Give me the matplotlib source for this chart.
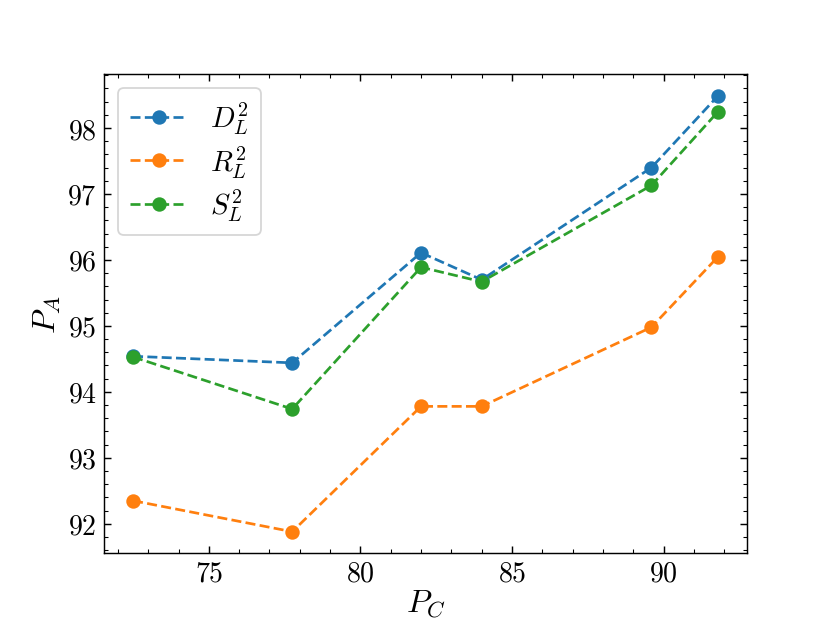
import matplotlib
matplotlib.use("Agg")
import matplotlib.pyplot as plt
from matplotlib.ticker import AutoMinorLocator

# readings of P_A against P_C
p_c = [72.5, 77.75, 82.0, 84.0, 89.6, 91.8]
d_l2 = [94.54, 94.44, 96.11, 95.70, 97.40, 98.49]
r_l2 = [92.35, 91.88, 93.78, 93.78, 94.98, 96.05]
s_l2 = [94.53, 93.74, 95.89, 95.67, 97.13, 98.25]

plt.rcParams["font.family"] = "serif"
plt.rcParams["font.serif"] = ["cmr10"]
plt.rcParams["mathtext.fontset"] = "cm"
plt.rcParams["axes.formatter.use_mathtext"] = True

fig, ax = plt.subplots(figsize=(6.4, 4.8), dpi=129.75)

ax.plot(p_c, d_l2, "o--", ms=7, label=r"$D_L^2$")
ax.plot(p_c, r_l2, "o--", ms=7, label=r"$R_L^2$")
ax.plot(p_c, s_l2, "o--", ms=7, label=r"$S_L^2$")

ax.set_xlabel(r"$P_C$", fontsize=18, labelpad=0)
ax.set_ylabel(r"$P_A$", fontsize=18, labelpad=2)

ax.xaxis.set_minor_locator(AutoMinorLocator(5))
ax.yaxis.set_minor_locator(AutoMinorLocator(5))
ax.tick_params(which="both", direction="in", top=True, right=True, labelsize=15.5)
ax.tick_params(which="major", length=4, pad=4)
ax.tick_params(which="minor", length=2)

ax.legend(loc="upper left", fontsize=16, labelspacing=0.25)

fig.savefig("out.png", dpi=129.75)
